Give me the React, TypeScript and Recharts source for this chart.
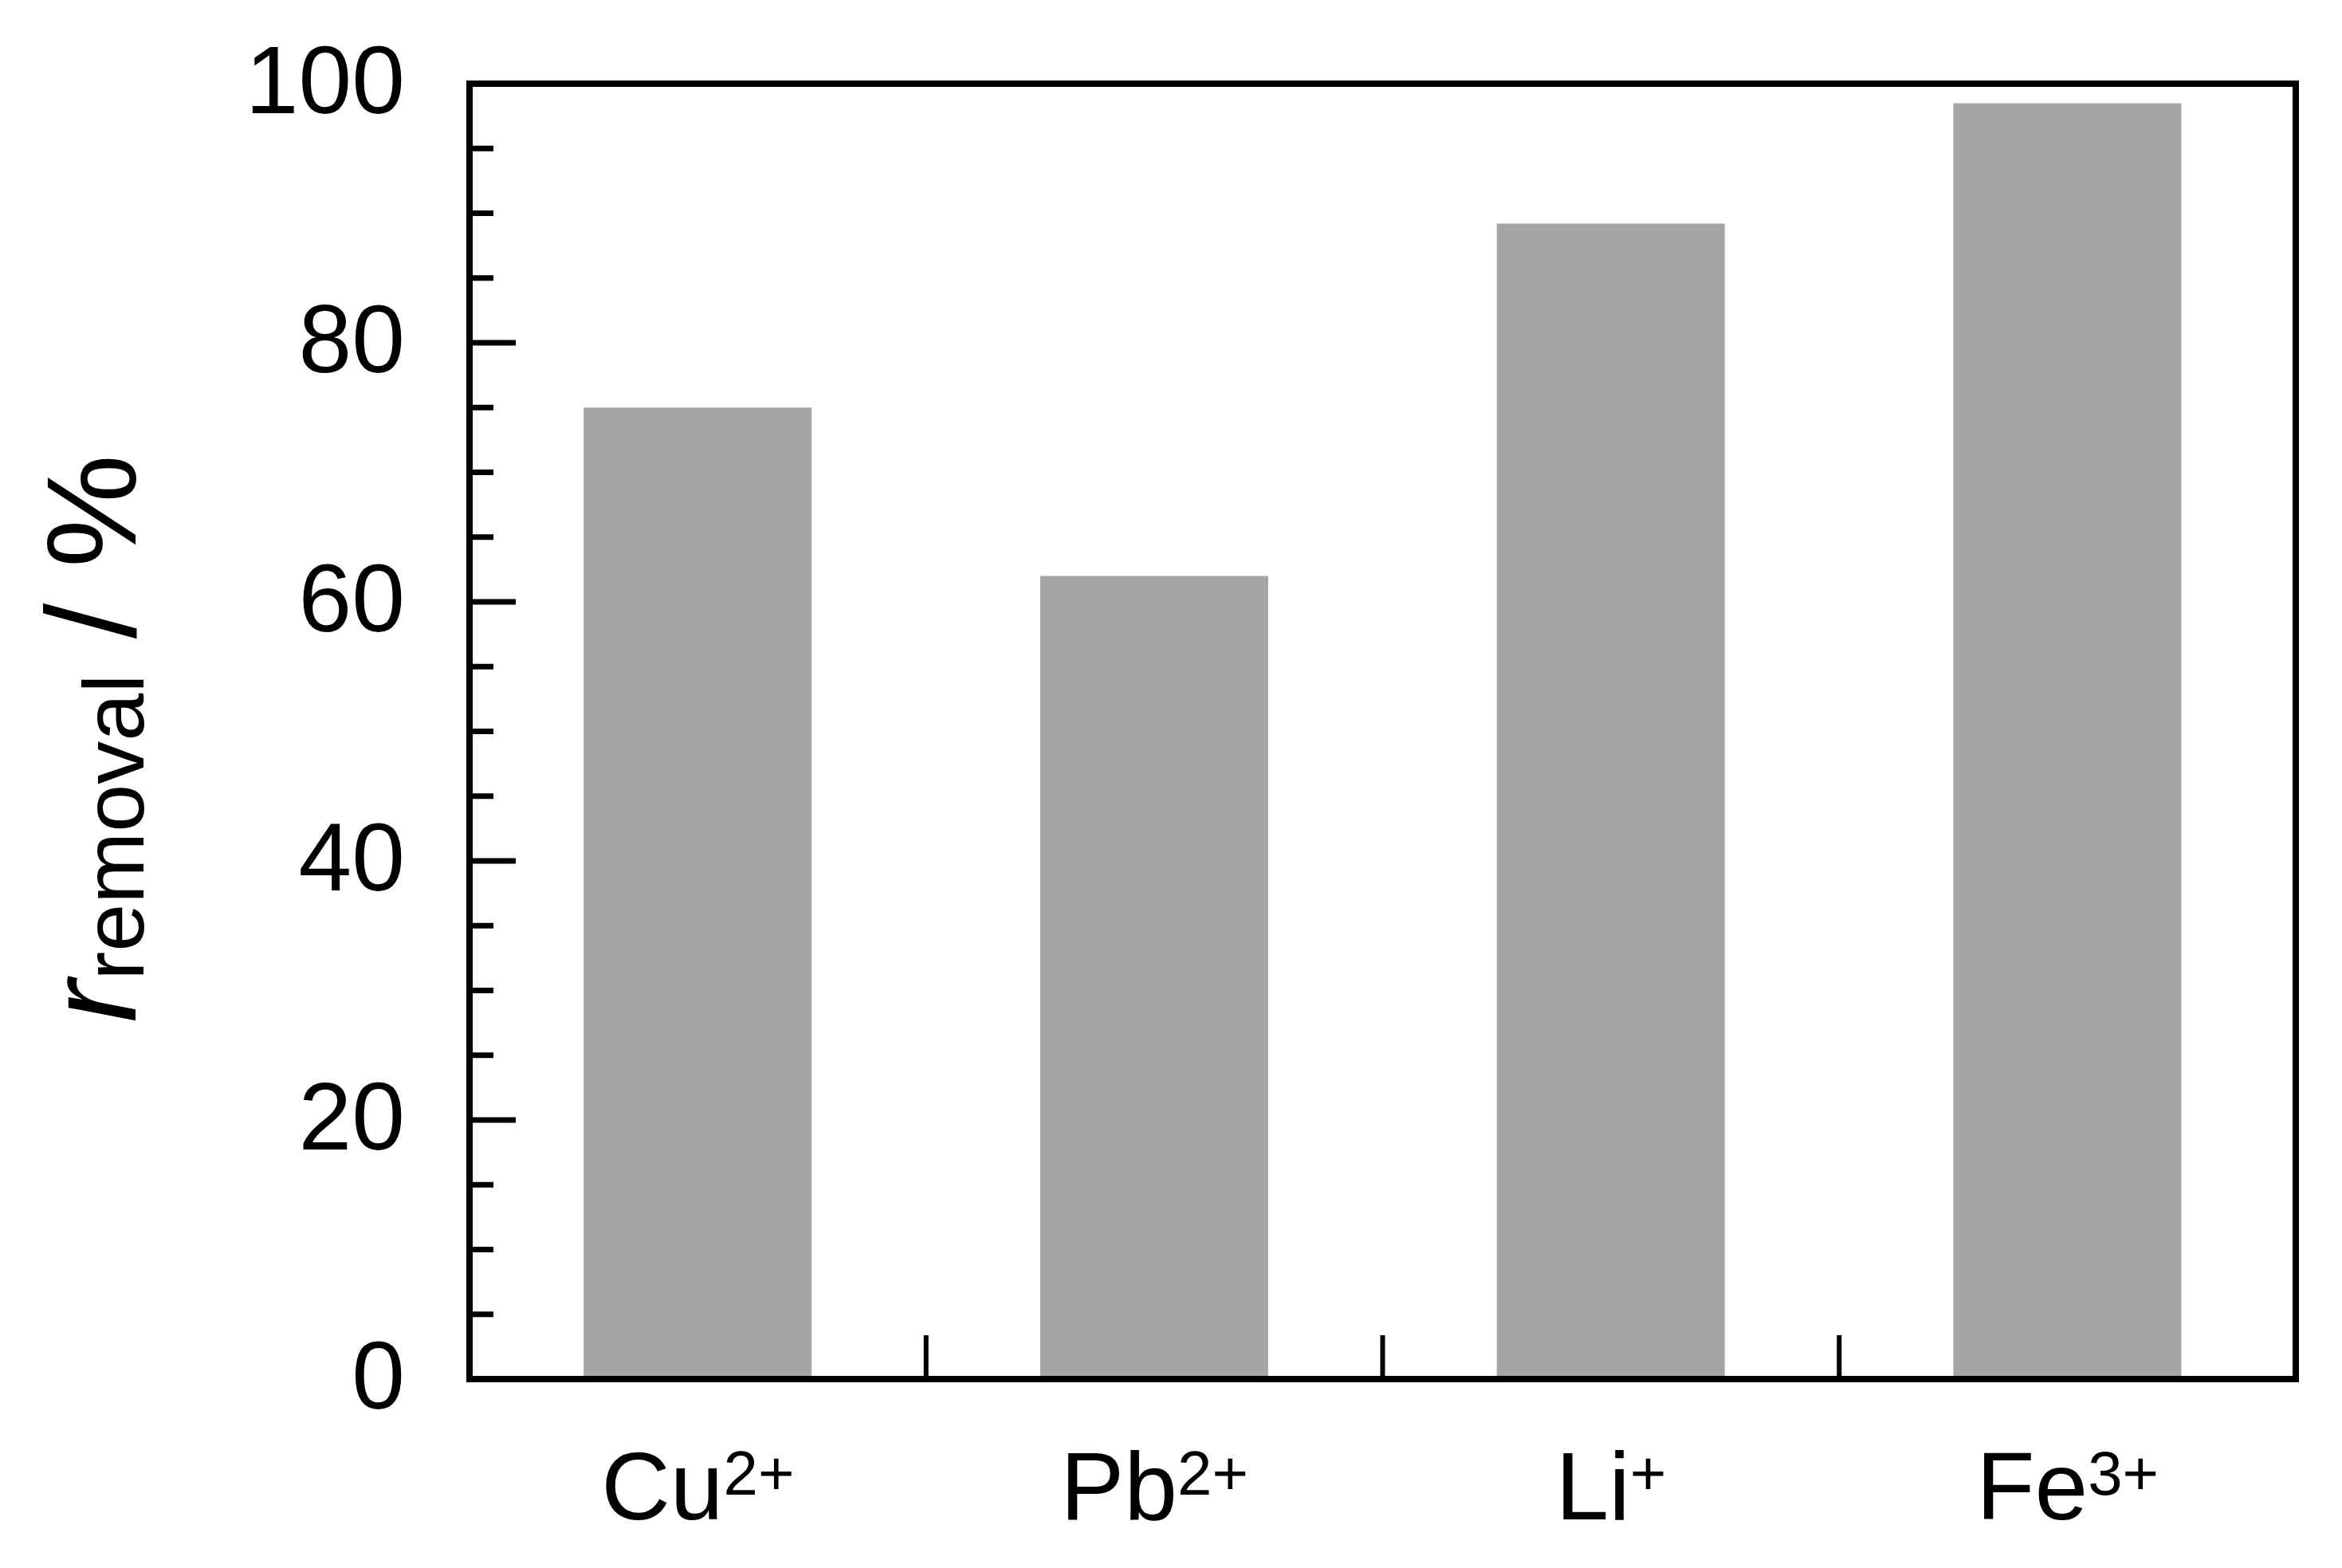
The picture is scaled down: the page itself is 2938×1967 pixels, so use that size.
import { Bar, BarChart, CartesianGrid, XAxis, YAxis } from "recharts";

const FONT = "'Liberation Sans', Arial, Helvetica, sans-serif";

const ions = ["Cu", "Pb", "Li", "Fe"];
const charges = ["2+", "2+", "+", "3+"];
const removal = [75, 62, 89.2, 98.5];

const yTicks = [0, 5, 10, 15, 20, 25, 30, 35, 40, 45, 50, 55, 60, 65, 70, 75, 80, 85, 90, 95, 100];
const yLabels = [0, 20, 40, 60, 80, 100];

const data = ions.map((ion, i) => ({
  ion: ion + charges[i],
  name: ion,
  charge: charges[i],
  removal: removal[i],
}));

const W = 2938;
const H = 1967;
const Y_AXIS_W = 589;
const RIGHT = 58;
const Y_GAP = 81;
const X_GAP = 176;
const AXIS = { stroke: "#000", strokeWidth: 8, strokeLinecap: "square" as const };

function YTick(props: any) {
  const { x, y, payload } = props;
  const axisX = x + Y_GAP;
  const major = yLabels.includes(payload.value);
  return (
    <g>
      <line x1={axisX} x2={axisX + (major ? 58 : 30)} y1={y} y2={y} stroke="#000" strokeWidth={7} />
      {major && (
        <text x={x} y={y} dy={37} textAnchor="end" fontSize={120} fill="#000" fontFamily={FONT}>
          {payload.value}
        </text>
      )}
    </g>
  );
}

function XTick(props: any) {
  const { x, y, payload, index } = props;
  const axisY = y - X_GAP;
  const d = data.find((r) => r.ion === payload.value) ?? data[index];
  const half = typeof payload.offset === "number" && payload.offset > 0
    ? payload.offset
    : (W - Y_AXIS_W - RIGHT) / data.length / 2;
  return (
    <g>
      {index < data.length - 1 && (
        <line x1={x + half} x2={x + half} y1={axisY} y2={axisY - 55} stroke="#000" strokeWidth={6} />
      )}
      <text x={x} y={y} textAnchor="middle" fontSize={120} fill="#000" fontFamily={FONT}>
        {d.name}
        <tspan fontSize={78} dy={-31}>{d.charge}</tspan>
      </text>
    </g>
  );
}

function YTitle(props: any) {
  const vb = props.viewBox ?? { x: 0, y: 105, width: Y_AXIS_W, height: 1625 };
  const cx = vb.x + 170;
  const cy = vb.y + vb.height / 2 + 9;
  return (
    <text
      x={cx}
      y={cy}
      transform={`rotate(-90 ${cx} ${cy})`}
      textAnchor="middle"
      fontSize={160}
      fill="#000"
      fontFamily={FONT}
    >
      <tspan fontStyle="italic">r</tspan>
      <tspan fontSize={108} dy={10}>removal</tspan>
      <tspan dy={-10}> / %</tspan>
    </text>
  );
}

export default function App() {
  return (
    <>
      <style>{"body{margin:0;background:#fff}"}</style>
      <BarChart
        width={W}
        height={H}
        data={data}
        margin={{ top: 105, right: RIGHT, left: 0, bottom: 0 }}
        barCategoryGap="25%"
      >
        {/* top and right edges of the frame */}
        <CartesianGrid
          stroke="#000"
          strokeWidth={8}
          strokeLinecap="square"
          horizontalCoordinatesGenerator={({ offset }: any) => [offset.top]}
          verticalCoordinatesGenerator={({ offset }: any) => [offset.left + offset.width]}
        />
        <XAxis
          dataKey="ion"
          interval={0}
          height={H - 1730}
          tickLine={false}
          tickSize={0}
          tickMargin={X_GAP}
          tick={<XTick />}
          axisLine={AXIS}
        />
        <YAxis
          type="number"
          domain={[0, 100]}
          ticks={yTicks}
          interval={0}
          width={Y_AXIS_W}
          tickLine={false}
          tickSize={0}
          tickMargin={Y_GAP}
          tick={<YTick />}
          axisLine={AXIS}
          label={{ content: YTitle }}
        />
        <Bar dataKey="removal" fill="#a5a5a5" isAnimationActive={false} />
      </BarChart>
    </>
  );
}
